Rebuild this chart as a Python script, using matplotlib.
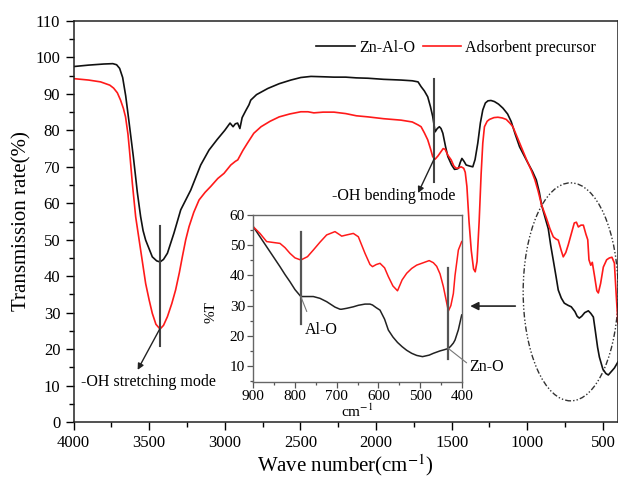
import numpy as np
import matplotlib
matplotlib.use("Agg")
from matplotlib import pyplot as plt
from matplotlib.patches import Ellipse
from matplotlib.ticker import MultipleLocator

plt.rcParams["font.family"] = ["Liberation Serif", "DejaVu Serif"]
plt.rcParams["mathtext.fontset"] = "stix"

# FTIR spectra, full range (wavenumber cm-1, transmission %)
znalo_wn = [4000, 3900, 3800, 3740, 3715, 3695, 3675, 3655, 3635, 3620, 3605,
            3590, 3578, 3565, 3556, 3540, 3523, 3479, 3450, 3428, 3405, 3379,
            3336, 3291, 3225, 3159, 3104, 3050, 3000, 2965, 2945, 2930, 2915,
            2900, 2885, 2860, 2840, 2828, 2790, 2715, 2640, 2563, 2497, 2430,
            2350, 2278, 2200, 2130, 2053, 1950, 1834, 1760, 1722, 1702, 1680,
            1658, 1640, 1625, 1609, 1595, 1581, 1570, 1558, 1540, 1525, 1500,
            1481, 1465, 1455, 1443, 1432, 1418, 1404, 1380, 1360, 1345, 1327,
            1310, 1294, 1277, 1260, 1240, 1217, 1190, 1161, 1130, 1106, 1080,
            1051, 1020, 995, 965, 940, 920, 905, 885, 861, 845, 828, 810, 795,
            775, 755, 730, 709, 685, 670, 656, 640, 620, 596, 580, 563, 550,
            535, 523, 500, 480, 464, 445, 424, 400]
znalo_t = [97.5, 97.9, 98.2, 98.3, 98.0, 97.0, 94.5, 89.5, 83, 78, 73,
           67.5, 63, 59, 56.3, 52.5, 49.9, 45.3, 44.2, 43.9, 44.6, 46.3,
           51.8, 58.2, 63.6, 70.5, 74.6, 77.5, 80, 82, 81, 81.8, 82,
           80.5, 83.5, 85.5, 87, 88.3, 89.8, 91.5, 92.8, 93.8, 94.5, 94.8,
           94.7, 94.6, 94.6, 94.4, 94.3, 94, 93.8, 93.6, 93.3, 92, 90.8,
           89.2, 86.5, 83.8, 79.6, 80.5, 81, 80.5, 79.2, 75.5, 72.8, 70.5,
           69.3, 69.4, 69.6, 71.2, 72.3, 71.5, 70.5, 70.2, 70, 72, 76.5,
           82, 85.6, 87.5, 88.1, 88.2, 87.9, 87.2, 86.1, 84.5, 82.4, 79,
           75.5, 73, 71, 68.7, 66.4, 63, 59.5, 56.5, 53, 48.5, 44.4, 40, 36.2,
           34, 32.6, 32, 31.6, 30.3, 29, 28.5, 29, 30, 30.5, 29.8, 28.8, 25,
           20.5, 17.8, 14.5, 13.3, 12.9, 13.8, 14.8, 16.5]

precursor_wn = [4000, 3900, 3821, 3760, 3735, 3710, 3689, 3670, 3656, 3640,
                3630, 3611, 3589, 3556, 3523, 3500, 3479, 3455, 3428, 3405,
                3379, 3350, 3325, 3300, 3280, 3258, 3236, 3205, 3170, 3130,
                3093, 3046, 3005, 2960, 2930, 2914, 2880, 2850, 2808, 2760,
                2700, 2640, 2570, 2497, 2450, 2411, 2350, 2278, 2200, 2130,
                2053, 1950, 1834, 1760, 1722, 1702, 1680, 1658, 1640, 1625,
                1609, 1590, 1570, 1556, 1543, 1525, 1503, 1485, 1470, 1455,
                1437, 1420, 1410, 1399, 1385, 1370, 1355, 1344, 1332, 1318,
                1305, 1294, 1283, 1265, 1250, 1220, 1194, 1165, 1139, 1115,
                1095, 1070, 1040, 1005, 974, 950, 929, 905, 874, 850, 828,
                810, 795, 775, 762, 745, 729, 710, 689, 675, 662, 645, 629,
                612, 600, 592, 580, 570, 555, 540, 530, 515, 497, 475, 457,
                440, 424, 412, 400]
precursor_t = [94.2, 93.8, 93.3, 92.4, 91.6, 90.3, 88.3, 86, 83.7, 79,
               74.6, 65.5, 56.3, 47.2, 38, 33.5, 29.8, 26.8, 25.5, 26.5,
               28.9, 32.5, 36.2, 41, 45.4, 50, 53.6, 57.5, 60.9, 63,
               64.6, 66.8, 68.2, 70.5, 71.5, 71.9, 74.5, 76.5, 79.2, 81,
               82.5, 83.7, 84.5, 85.1, 85.1, 84.8, 85, 85, 84.6, 84,
               83.7, 83.2, 82.8, 82.3, 81.5, 81, 79.3, 77.4, 75, 72.8,
               72.1, 73, 74.2, 75, 74.8, 73.2, 71.9, 70.2, 69.6, 69.7,
               70, 69.6, 68.5, 64.6, 55, 47, 42, 41.2, 44, 55,
               68, 76.5, 81, 82.5, 83, 83.5, 83.6, 83.4, 83, 82,
               81, 78.5, 75.5, 72, 69.1, 66.5, 63.5, 59.5, 56, 53, 50.8,
               50.2, 49.9, 47, 45.3, 46.5, 48.6, 51.5, 54.6, 54.8, 53.5, 54, 54,
               51.5, 50, 44.5, 43, 43.8, 40, 36, 35.4, 38, 42.5, 44.5, 45,
               45.2, 43.6, 35, 27]

# Enlarged 900-400 cm-1 region
zoom_wn = [900, 884, 868, 852, 836, 824, 812, 800, 786, 770, 756, 740, 724,
           704, 692, 688, 676, 660, 648, 632, 620, 614, 605, 596, 585, 576,
           565, 554, 543, 532, 520, 508, 494, 478, 468, 460, 452, 444, 432,
           426, 420, 416, 408, 400]
zoom_znalo = [56.1, 52.8, 49.5, 46.2, 42.9, 40.3, 37.9, 35.3, 33, 33, 33, 32.4,
              31.3, 29.5, 28.8, 28.8, 29.1, 29.6, 30.1, 30.5, 30.5, 30.2,
              29.3, 28.5, 25.5, 21.9, 19.6, 17.8, 16.4, 15.2, 14.2, 13.5,
              13.1, 13.6, 14.2, 14.6, 15, 15.3, 15.8, 16.6, 17.6, 18.6, 22,
              26.9]
zoom_precursor = [56.1, 53.9, 51.2, 50.9, 50.6, 49.2, 47.3, 45.8, 45.1, 46.2,
                  48.4, 51, 53.4, 54.5, 53.4, 53, 53.4, 53.9, 52.8, 47.3,
                  43.6, 42.9, 43.6, 44, 42.5, 39.6, 36.5, 34.9, 38.5, 40.7,
                  42.3, 43.4, 44.1, 44.9, 44.2, 43, 40.5, 36.3, 28.2, 30,
                  34, 40, 48.4, 51.2]

W, H = 618, 482
fig = plt.figure(figsize=(W / 100, H / 100), dpi=100)

ax = fig.add_axes([73.5 / W, (H - 422) / H, (618 - 73.5) / W, 401 / H])
ax.plot(znalo_wn, znalo_t, color="#111111", lw=1.2, label="Zn-Al-O")
ax.plot(precursor_wn, precursor_t, color="#ff1a1a", lw=1.2,
        label="Adsorbent precursor")
ax.set_xlim(4000, 400)
ax.set_ylim(0, 110)
ax.xaxis.set_major_locator(MultipleLocator(500))
ax.xaxis.set_minor_locator(MultipleLocator(250))
ax.yaxis.set_major_locator(MultipleLocator(10))
ax.yaxis.set_minor_locator(MultipleLocator(5))
ax.tick_params(which="both", direction="out", top=False, right=False,
               labelsize=12, width=1.0)
ax.tick_params(which="major", length=6)
ax.tick_params(which="minor", length=3.5)
for s in ax.spines.values():
    s.set_linewidth(1.1)
    s.set_color("#222222")
ax.set_xlabel("Wave number(cm$^{-1}$)", fontsize=15, labelpad=1)
ax.set_ylabel("Transmission rate(%)", fontsize=15, labelpad=3)

ax.legend(loc="center right", bbox_to_anchor=(596 / W, 1 - 48 / H),
          bbox_transform=fig.transFigure, ncol=2, frameon=False,
          fontsize=11.5, handlelength=2.4, handletextpad=0.25,
          columnspacing=0.5, borderpad=0, borderaxespad=0)

# band markers
ax.plot([3430, 3430], [53.8, 20.8], color="#444444", lw=1.5)
ax.annotate("-OH stretching mode", xy=(3576, 14.3), xytext=(3950, 11),
            fontsize=11.5, va="center", ha="left")
ax.annotate("", xy=(3576, 14.3), xytext=(3430, 25.5),
            arrowprops=dict(arrowstyle="-|>", color="#222222", lw=1.0,
                            mutation_scale=9, shrinkA=0, shrinkB=0))
ax.plot([1614, 1614], [94.2, 65.9], color="#444444", lw=1.5)
ax.text(1880, 62, "-OH bending mode", fontsize=11.5, ha="center", va="center")
ax.annotate("", xy=(1722, 62.8), xytext=(1614, 72.3),
            arrowprops=dict(arrowstyle="-|>", color="#222222", lw=1.0,
                            mutation_scale=9, shrinkA=0, shrinkB=0))
ax.annotate("", xy=(1377, 31.8), xytext=(1079, 31.8),
            arrowprops=dict(arrowstyle="-|>", color="#222222", lw=1.2,
                            mutation_scale=12, shrinkA=0, shrinkB=0))
ax.add_patch(Ellipse((713, 35.7), 628, 59.8, fill=False, color="#333333",
                     lw=1.0, linestyle=(0, (4, 1.5, 1, 1.5, 1, 1.5)),
                     clip_on=False))

# inset
ins = fig.add_axes([253.3 / W, (H - 381.7) / H, 208.4 / W, 166.7 / H])
ins.plot(zoom_wn, zoom_znalo, color="#222222", lw=1.1)
ins.plot(zoom_wn, zoom_precursor, color="#ff1a1a", lw=1.1)
ins.set_xlim(900, 400)
ins.set_ylim(4.8, 60)
ins.xaxis.set_major_locator(MultipleLocator(100))
ins.xaxis.set_minor_locator(MultipleLocator(50))
ins.yaxis.set_major_locator(MultipleLocator(10))
ins.yaxis.set_minor_locator(MultipleLocator(5))
ins.tick_params(which="both", direction="out", top=False, right=False,
                labelsize=11, width=0.9, color="#555555", pad=2)
ins.tick_params(which="major", length=4)
ins.tick_params(which="minor", length=2.5)
for s in ins.spines.values():
    s.set_linewidth(1.0)
    s.set_color("#666666")
ins.set_xlabel("cm$^{-1}$", fontsize=11, labelpad=0)
ins.set_ylabel("%T", fontsize=11)
ins.yaxis.set_label_coords(-0.17, 0.42)

ins.plot([786, 786], [54.3, 23.9], color="#555555", lw=1.6)
ins.annotate("Al-O", xy=(786, 33), xytext=(738, 21.9), fontsize=11.5,
             ha="center", va="center",
             arrowprops=dict(arrowstyle="-", color="#777777", lw=0.8,
                             shrinkA=6, shrinkB=0, relpos=(0.2, 1)))
ins.plot([432, 432], [42.6, 12.2], color="#555555", lw=1.6)
ins.annotate("Zn-O", xy=(432, 15.8), xytext=(340, 9.8), fontsize=11.5,
             ha="center", va="center", annotation_clip=False,
             arrowprops=dict(arrowstyle="-", color="#777777", lw=0.8,
                             shrinkA=0, shrinkB=0, relpos=(0, 0.6)))

fig.savefig("out.png", dpi=100)
